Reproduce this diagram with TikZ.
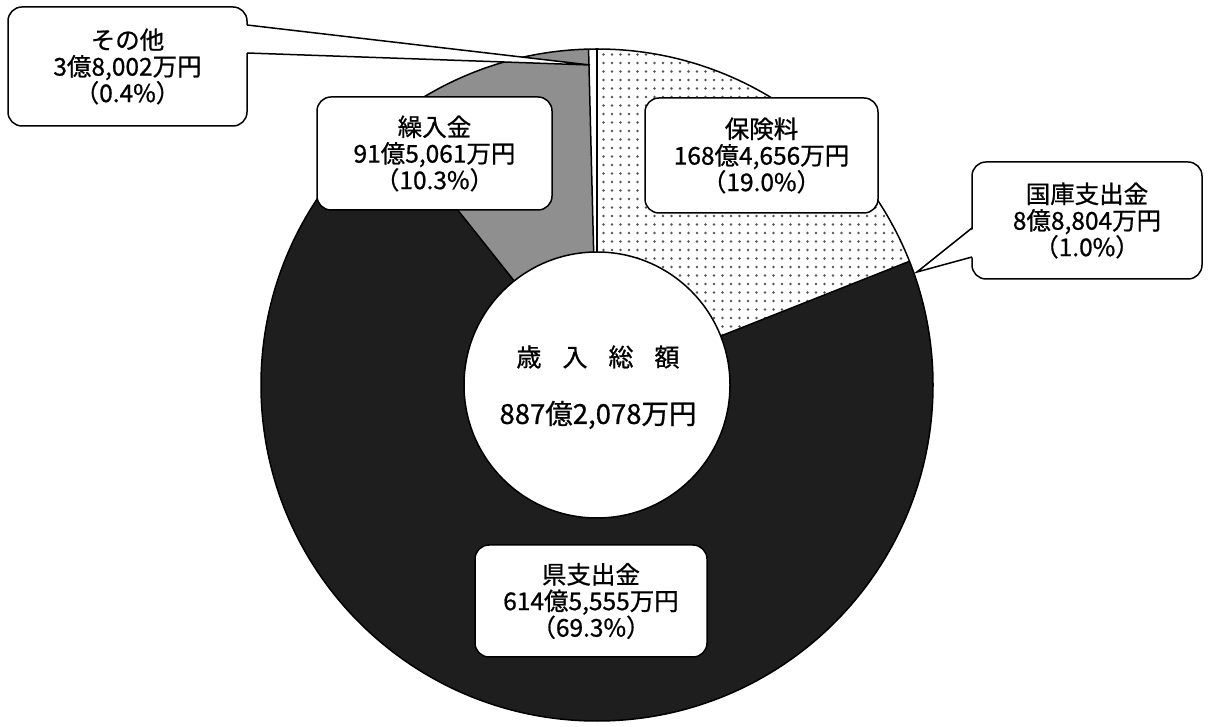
\documentclass[tikz,border=0pt]{standalone}
\usepackage{fontspec}
\newfontfamily\jp[RawFeature={embolden=0.8}]{Noto Sans CJK JP}
\usetikzlibrary{patterns.meta}
\definecolor{segblack}{HTML}{1E1E1E}
\definecolor{seggray}{HTML}{8F8F8F}
\definecolor{dotgray}{HTML}{555555}
\begin{document}
\begin{tikzpicture}[x=1pt,y=1pt,
  box/.style={draw=black, line width=1.5pt, fill=white, rounded corners=14pt,
    inner sep=0pt, outer sep=0pt, align=center,
    font=\jp\fontsize{24.5}{26.5}\selectfont, text=black},
  border/.style={draw=black, line width=1.5pt, line join=round},
  tailline/.style={draw=black, line width=1.5pt, line join=miter},
]
\useasboundingbox (0,0) rectangle (1208,726);
\fill[white] (0,0) rectangle (1208,726);
\coordinate (C) at (597,341);
\def\Ro{336pt}
\def\Ri{133pt}
% full ring black
\fill[segblack] (C) circle[radius=\Ro];
\begin{scope}[shift={(597,341)}]
  % hoken-ryo (dotted) 90 -> 21.6
  \path[preaction={fill=white}, pattern={Dots[radius=1.3pt,distance=8.5pt]}, pattern color=dotgray]
    (90:\Ri) -- (90:\Ro) arc[start angle=90,end angle=21.6,radius=\Ro]
    -- (21.6:\Ri) arc[start angle=21.6,end angle=90,radius=\Ri] -- cycle;
  % kurinyukin (gray) 128.52 -> 91.44
  \fill[seggray]
    (91.44:\Ri) -- (91.44:\Ro) arc[start angle=91.44,end angle=128.52,radius=\Ro]
    -- (128.52:\Ri) arc[start angle=128.52,end angle=91.44,radius=\Ri] -- cycle;
  % sonota (white) 91.44 -> 90
  \fill[white]
    (90:\Ri) -- (90:\Ro) arc[start angle=90,end angle=91.44,radius=\Ro]
    -- (91.44:\Ri) arc[start angle=91.44,end angle=90,radius=\Ri] -- cycle;
  % radial borders
  \foreach \a in {90,91.44,128.52,21.6}{
    \draw[border] (\a:\Ri) -- (\a:\Ro);
  }
\end{scope}
\draw[border] (C) circle[radius=\Ro];
\draw[border, fill=white] (C) circle[radius=\Ri];

% centre texts
\node[font=\jp\fontsize{25}{25}\selectfont, text=black] (title) at (598,369)
  {歳\hspace{21pt}入\hspace{21pt}総\hspace{21pt}額};
\node[font=\jp\fontsize{27.5}{28}\selectfont, text=black] (total) at (598,311)
  {887億2,078万円};

% callout boxes
\node[box, minimum width=239pt, minimum height=119pt] (other) at (127.5,659.5)
  {その他\\3億8,002万円\\（0.4\%）};
\node[box, minimum width=235pt, minimum height=113pt] (kuri) at (434.5,572.5)
  {繰入金\\91億5,061万円\\（10.3\%）};
\node[box, minimum width=233pt, minimum height=115pt] (hoken) at (761.5,570.5)
  {保険料\\168億4,656万円\\（19.0\%）};
\node[box, minimum width=230pt, minimum height=117pt] (kokko) at (1087,505.5)
  {国庫支出金\\8億8,804万円\\（1.0\%）};
\node[box, minimum width=232pt, minimum height=112pt] (ken) at (591,125)
  {県支出金\\614億5,555万円\\（69.3\%）};

% tails
\coordinate (otherTip) at (590,661);
\fill[white] ([xshift=-2.5pt,yshift=-18pt]other.north east) -- (otherTip)
  -- ([xshift=-2.5pt,yshift=-46pt]other.north east) -- cycle;
\draw[tailline] ([yshift=-18pt]other.north east) -- (otherTip)
  -- ([yshift=-46pt]other.north east);

\coordinate (kokkoTip) at (917,454);
\fill[white] ([xshift=2.5pt,yshift=-66pt]kokko.north west) -- (kokkoTip)
  -- ([xshift=2.5pt,yshift=-95pt]kokko.north west) -- cycle;
\draw[tailline] ([yshift=-66pt]kokko.north west) -- (kokkoTip)
  -- ([yshift=-95pt]kokko.north west);
\end{tikzpicture}
\end{document}
